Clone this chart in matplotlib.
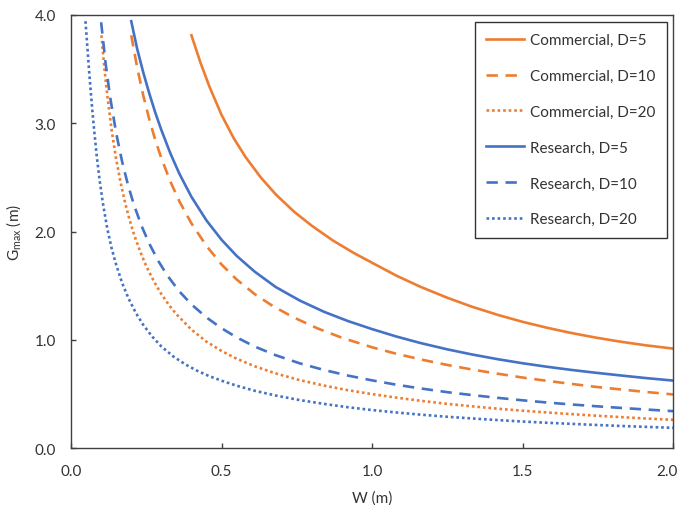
import matplotlib
matplotlib.use("Agg")
import matplotlib.pyplot as plt
from matplotlib.transforms import ScaledTranslation

plt.rcParams['font.family'] = ['Lato', 'DejaVu Sans']

# values
w_c5 = [0.40, 0.43, 0.46, 0.50, 0.54, 0.58, 0.63, 0.68, 0.74, 0.80, 0.87, 0.94, 1.00,
        1.08, 1.16, 1.25, 1.33, 1.42, 1.50, 1.58, 1.66, 1.74, 1.82, 1.91, 2.00]
g_c5 = [3.81, 3.558, 3.335, 3.076, 2.863, 2.686, 2.50, 2.343, 2.185, 2.053, 1.917, 1.801, 1.712,
        1.594, 1.491, 1.389, 1.308, 1.229, 1.167, 1.113, 1.065, 1.023, 0.986, 0.950, 0.92]

w_c10 = [0.20, 0.22, 0.24, 0.26, 0.28, 0.30, 0.33, 0.36, 0.40, 0.45, 0.50, 0.55, 0.61, 0.67,
         0.74, 0.82, 0.90, 1.00, 1.08, 1.16, 1.25, 1.33, 1.42, 1.50, 1.58, 1.66, 1.74, 1.82,
         1.91, 2.00]
g_c10 = [3.81, 3.509, 3.254, 3.035, 2.843, 2.677, 2.461, 2.278, 2.075, 1.867, 1.696, 1.558,
         1.423, 1.313, 1.207, 1.105, 1.020, 0.932, 0.873, 0.821, 0.769, 0.728, 0.687, 0.653,
         0.623, 0.595, 0.568, 0.545, 0.520, 0.497]

w_c20 = [0.101, 0.11, 0.12, 0.135, 0.15, 0.165, 0.18, 0.195, 0.21, 0.23, 0.25, 0.275, 0.30,
         0.325, 0.35, 0.40, 0.45, 0.50, 0.55, 0.61, 0.68, 0.76, 0.84, 0.92, 1.00, 1.08, 1.16,
         1.25, 1.33, 1.42, 1.50, 1.58, 1.66, 1.74, 1.82, 1.91, 2.00]
g_c20 = [3.81, 3.527, 3.267, 2.933, 2.667, 2.448, 2.261, 2.103, 1.967, 1.813, 1.68, 1.542,
         1.423, 1.323, 1.237, 1.095, 0.984, 0.898, 0.827, 0.757, 0.691, 0.629, 0.579, 0.536,
         0.500, 0.468, 0.439, 0.410, 0.388, 0.365, 0.347, 0.331, 0.316, 0.302, 0.289, 0.275,
         0.263]

w_r5 = [0.20, 0.22, 0.24, 0.26, 0.28, 0.30, 0.33, 0.36, 0.40, 0.45, 0.50, 0.55, 0.61, 0.68,
        0.76, 0.84, 0.92, 1.00, 1.08, 1.16, 1.25, 1.33, 1.42, 1.50, 1.58, 1.66, 1.74, 1.82,
        1.91, 2.00]
g_r5 = [3.94, 3.682, 3.467, 3.273, 3.096, 2.937, 2.721, 2.533, 2.32, 2.102, 1.924, 1.776,
        1.630, 1.488, 1.363, 1.260, 1.174, 1.100, 1.032, 0.972, 0.913, 0.867, 0.821, 0.785,
        0.753, 0.724, 0.698, 0.674, 0.648, 0.625]

w_r10 = [0.10, 0.115, 0.13, 0.15, 0.17, 0.19, 0.21, 0.235, 0.26, 0.29, 0.32, 0.36, 0.40,
         0.45, 0.50, 0.55, 0.61, 0.68, 0.76, 0.84, 0.92, 1.00, 1.08, 1.16, 1.25, 1.33, 1.42,
         1.50, 1.58, 1.66, 1.74, 1.82, 1.91, 2.00]
g_r10 = [3.93, 3.548, 3.238, 2.907, 2.641, 2.421, 2.238, 2.047, 1.888, 1.728, 1.594, 1.447,
         1.328, 1.207, 1.108, 1.024, 0.939, 0.859, 0.784, 0.723, 0.671, 0.627, 0.587, 0.553,
         0.518, 0.492, 0.465, 0.443, 0.423, 0.405, 0.389, 0.374, 0.358, 0.343]

w_r20 = [0.048, 0.055, 0.06, 0.065, 0.07, 0.075, 0.085, 0.095, 0.105, 0.12, 0.135, 0.15,
         0.17, 0.19, 0.215, 0.24, 0.27, 0.30, 0.34, 0.38, 0.42, 0.46, 0.50, 0.55, 0.61, 0.68,
         0.76, 0.84, 0.92, 1.00, 1.08, 1.16, 1.25, 1.33, 1.42, 1.50, 1.58, 1.66, 1.74, 1.82,
         1.91, 2.00]
g_r20 = [3.94, 3.673, 3.483, 3.308, 3.143, 2.987, 2.706, 2.474, 2.276, 2.033, 1.844, 1.693,
         1.524, 1.389, 1.251, 1.138, 1.030, 0.940, 0.847, 0.774, 0.714, 0.665, 0.624, 0.578,
         0.531, 0.487, 0.445, 0.410, 0.379, 0.353, 0.331, 0.311, 0.291, 0.276, 0.260, 0.247,
         0.236, 0.226, 0.216, 0.207, 0.198, 0.189]

labels = ["Commercial, D=5", "Commercial, D=10", "Commercial, D=20",
          "Research, D=5", "Research, D=10", "Research, D=20"]
xticks = [0.0, 0.5, 1.0, 1.5, 2.0]
yticks = [0.0, 1.0, 2.0, 3.0, 4.0]

orange = "#ED7D31"
blue = "#4472C4"
lw = 1.9
dashed = (0, (4.3, 2.9))
dotted = (0, (1, 1.1))

fig = plt.figure(figsize=(6.81, 5.06), dpi=100)
ax = fig.add_axes([0.1043, 0.112, 0.884, 0.857])

ax.plot(w_c5, g_c5, color=orange, lw=lw, label=labels[0])
ax.plot(w_c10, g_c10, color=orange, lw=lw, linestyle=dashed, label=labels[1])
ax.plot(w_c20, g_c20, color=orange, lw=lw, linestyle=dotted, label=labels[2])
ax.plot(w_r5, g_r5, color=blue, lw=lw, label=labels[3])
ax.plot(w_r10, g_r10, color=blue, lw=lw, linestyle=dashed, label=labels[4])
ax.plot(w_r20, g_r20, color=blue, lw=lw, linestyle=dotted, label=labels[5])

ax.set_xlim(0, 2.0)
ax.set_ylim(0, 4.0)
ax.set_xticks(xticks)
ax.set_yticks(yticks)
ax.set_xticklabels([f"{v:.1f}" for v in xticks])
ax.set_yticklabels([f"{v:.1f}" for v in yticks])

txt = "#333333"
for s in ax.spines.values():
    s.set_color("#404040")
    s.set_linewidth(1.0)
ax.tick_params(direction="in", length=3.6, width=1, color="#404040",
               labelsize=11, labelcolor=txt, pad=11)

# keep the last x label inside the canvas
last = ax.get_xticklabels()[-1]
last.set_transform(last.get_transform() + ScaledTranslation(-6 / 100, 0, fig.dpi_scale_trans))

ax.set_xlabel("W (m)", fontsize=11, color=txt, labelpad=9)
ax.set_ylabel(r"$\mathregular{G_{max}}$ (m)", fontsize=11, color=txt, labelpad=8)

leg = ax.legend(loc="upper right", bbox_to_anchor=(0.9896, 0.984), borderaxespad=0,
                fontsize=11, frameon=True, fancybox=False, framealpha=1,
                handlelength=2.45, handletextpad=0.4, labelspacing=1.43,
                borderpad=0.75)
leg.get_frame().set_edgecolor("#333333")
leg.get_frame().set_linewidth(1.0)
for t in leg.get_texts():
    t.set_color(txt)

fig.savefig("out.png", dpi=100)
